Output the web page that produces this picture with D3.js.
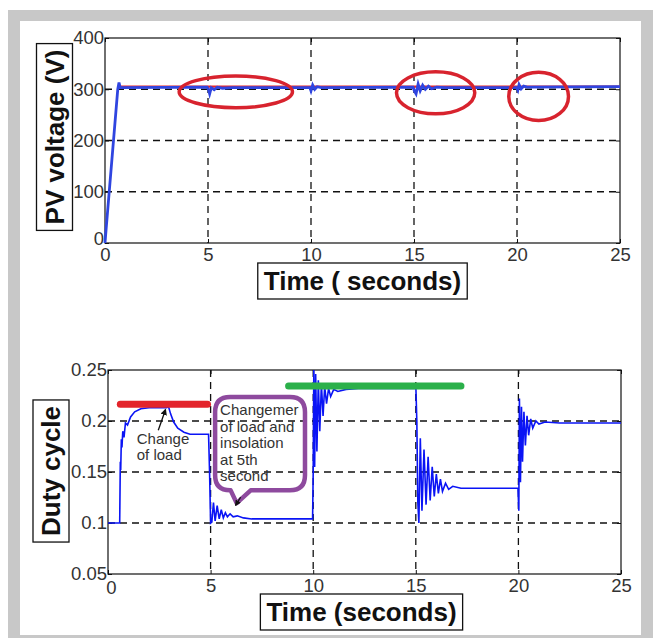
<!DOCTYPE html>
<html>
<head>
<meta charset="utf-8">
<script src="https://cdn.jsdelivr.net/npm/d3@7"></script>
<style>
    body { margin: 0; background: #fff; }
    svg text { font-family: "Liberation Sans", Arial, sans-serif; }
</style>
</head>
<body>
<div id="chart"></div>
<script>
// PV voltage (top plot)
const pvVoltage = [
    [0, 0], [0.05, 25], [0.62, 300], [0.68, 313], [0.74, 303], [4.95, 304],
    [5.02, 300], [5.08, 291], [5.16, 303], [5.3, 299], [5.45, 304], [5.7, 302], [6.2, 303],
    [9.95, 303], [10.0, 297], [10.08, 308], [10.18, 300], [10.3, 305], [10.5, 303],
    [14.95, 304], [15.03, 296], [15.1, 291], [15.2, 310], [15.3, 297], [15.42, 308], [15.55, 300],
    [15.7, 306], [15.85, 301], [16.1, 304], [16.5, 303],
    [19.98, 303], [20.04, 298], [20.1, 309], [20.2, 301], [20.32, 306], [20.5, 304], [25, 305]
];
const pvReference = [[0.7, 305], [25, 305]];
// circled regions: centre time, centre volts, half-width (s), half-height (V)
const pvCircles = [
    [6.35, 295, 2.75, 31],
    [16.05, 293, 1.9, 41],
    [21.05, 286, 1.45, 47]
];

// Duty cycle (bottom plot)
const duty = [
    [0, 0.1], [0.57, 0.1], [0.6, 0.16], [0.62, 0.152], [0.65, 0.182], [0.68, 0.174], [0.72, 0.19],
    [0.78, 0.184], [0.85, 0.198], [0.95, 0.196], [1.1, 0.204], [1.3, 0.209], [1.6, 0.212],
    [2.0, 0.213], [2.85, 0.213], [2.95, 0.214], [3.05, 0.207], [3.2, 0.199], [3.4, 0.193],
    [3.7, 0.189], [4.0, 0.187], [4.9, 0.187], [4.95, 0.15], [5.0, 0.1], [5.06, 0.101],
    [5.14, 0.12], [5.22, 0.102], [5.32, 0.117], [5.42, 0.104], [5.52, 0.113], [5.62, 0.105],
    [5.72, 0.11], [5.82, 0.106], [5.95, 0.109], [6.1, 0.106], [6.3, 0.107], [6.6, 0.105],
    [7.0, 0.104], [9.97, 0.104], [10.0, 0.15], [10.03, 0.25], [10.07, 0.155], [10.12, 0.246],
    [10.18, 0.17], [10.25, 0.24], [10.32, 0.19], [10.4, 0.236], [10.48, 0.205], [10.56, 0.234],
    [10.65, 0.217], [10.75, 0.232], [10.85, 0.224], [11.0, 0.231], [11.2, 0.229], [11.6, 0.231],
    [12.2, 0.232], [14.97, 0.232], [15.0, 0.236], [15.05, 0.2], [15.1, 0.12], [15.15, 0.1],
    [15.22, 0.183], [15.3, 0.112], [15.4, 0.172], [15.5, 0.118], [15.6, 0.165], [15.7, 0.122],
    [15.8, 0.155], [15.9, 0.126], [16.0, 0.148], [16.1, 0.129], [16.2, 0.143], [16.3, 0.131],
    [16.45, 0.139], [16.6, 0.133], [16.8, 0.136], [17.2, 0.134], [19.98, 0.134], [20.02, 0.112],
    [20.05, 0.222], [20.1, 0.14], [20.15, 0.214], [20.2, 0.16], [20.27, 0.209], [20.34, 0.176],
    [20.42, 0.205], [20.5, 0.186], [20.6, 0.202], [20.7, 0.193], [20.85, 0.2], [21.0, 0.197],
    [21.3, 0.199], [22, 0.198], [25, 0.198]
];
// highlight bars: start time, end time, level
const dutyBars = [
    [0.6, 4.85, 0.2165, "#e3242b"],
    [8.8, 17.2, 0.2343, "#2bb04a"]
];
const loadNote = ["Change", "of load"];
const calloutNote = ["Changemer", "of load and", "insolation", "at 5th", "second"];

const timeTicks = [0, 5, 10, 15, 20, 25];
const pvTicks = [0, 100, 200, 300, 400];
const dutyTicks = [0.05, 0.1, 0.15, 0.2, 0.25];

const width = 653, height = 638;
const font = '"Liberation Sans", Arial, sans-serif';

const svg = d3.select("#chart").append("svg")
    .attr("width", width)
    .attr("height", height);

// grey picture frame
svg.append("rect").attr("x", 8).attr("y", 10).attr("width", 645).attr("height", 628).attr("fill", "#c8c8c8");
svg.append("rect").attr("x", 20).attr("y", 21).attr("width", 621).attr("height", 614).attr("fill", "#fff");

const drawPanel = (box, yDomain, yTicks, yFmt) => {
    const x = d3.scaleLinear().domain([0, 25]).range([box.left, box.right]);
    const y = d3.scaleLinear().domain(yDomain).range([box.bottom, box.top]);
    const g = svg.append("g");

    // dashed grid
    g.selectAll(".vgrid").data(timeTicks.slice(1, -1)).join("line")
        .attr("x1", d => x(d)).attr("x2", d => x(d))
        .attr("y1", box.top).attr("y2", box.bottom)
        .attr("stroke", "#111").attr("stroke-width", 1.3).attr("stroke-dasharray", "7,5");
    g.selectAll(".hgrid").data(yTicks.slice(1, -1)).join("line")
        .attr("x1", box.left).attr("x2", box.right)
        .attr("y1", d => y(d)).attr("y2", d => y(d))
        .attr("stroke", "#111").attr("stroke-width", 1.3).attr("stroke-dasharray", "7,5");

    // axes, matlab style ticks inside
    const tickStyle = a => {
        a.attr("font-family", font);
        a.select(".domain").remove();
        a.selectAll("line").attr("stroke", "#111");
        a.selectAll("text").attr("fill", "#333").style("font-size", "18.5px");
    };
    g.append("g").attr("class", "xaxis").attr("transform", `translate(0,${box.bottom})`)
        .call(d3.axisTop(x).tickValues(timeTicks).tickSize(4).tickFormat(d3.format("d")))
        .call(tickStyle)
        .call(a => a.selectAll("text").attr("y", 5).attr("dy", "0.71em"));
    g.append("g").attr("transform", `translate(0,${box.top})`)
        .call(d3.axisBottom(x).tickValues(timeTicks).tickSize(4).tickFormat(""))
        .call(tickStyle);
    g.append("g").attr("class", "yaxis").attr("transform", `translate(${box.left},0)`)
        .call(d3.axisRight(y).tickValues(yTicks).tickSize(4).tickFormat(yFmt))
        .call(tickStyle)
        .call(a => a.selectAll("text").attr("x", -1).attr("text-anchor", "end"));
    g.append("g").attr("transform", `translate(${box.right},0)`)
        .call(d3.axisLeft(y).tickValues(yTicks).tickSize(4).tickFormat(""))
        .call(tickStyle);

    g.append("rect")
        .attr("x", box.left).attr("y", box.top)
        .attr("width", box.right - box.left).attr("height", box.bottom - box.top)
        .attr("fill", "none").attr("stroke", "#111").attr("stroke-width", 1.2);

    return {x, y, g};
};

// boxed bold axis titles
const boxedLabel = (cx, cy, label, rotate, size) => {
    const g = svg.append("g").attr("transform", `translate(${cx},${cy})${rotate ? "rotate(-90)" : ""}`);
    const t = g.append("text")
        .attr("text-anchor", "middle").attr("dy", "0.36em")
        .attr("font-family", font)
        .style("font-size", size + "px").style("font-weight", "bold").attr("fill", "#111")
        .text(label);
    const bb = t.node().getBBox();
    g.insert("rect", "text")
        .attr("x", bb.x - 6).attr("y", -18)
        .attr("width", bb.width + 12).attr("height", 36)
        .attr("fill", "#fff").attr("stroke", "#111").attr("stroke-width", 1.3);
};

// ---- top: PV voltage ----
const pvPanel = drawPanel({left: 105, right: 620, top: 38, bottom: 243}, [0, 400], pvTicks, d3.format("d"));
// keep the two zeros at the corner apart
pvPanel.g.selectAll(".yaxis .tick text").filter(d => d === 0).attr("dy", "0.1em");

pvPanel.g.append("path").datum(pvReference)
    .attr("d", d3.line().x(d => pvPanel.x(d[0])).y(d => pvPanel.y(d[1])))
    .attr("fill", "none").attr("stroke", "#e3242b").attr("stroke-width", 2.2);
pvPanel.g.append("path").datum(pvVoltage)
    .attr("d", d3.line().x(d => pvPanel.x(d[0])).y(d => pvPanel.y(d[1])))
    .attr("fill", "none").attr("stroke", "#2f45e0").attr("stroke-width", 2.8);
pvPanel.g.selectAll(".circ").data(pvCircles).join("ellipse")
    .attr("cx", d => pvPanel.x(d[0])).attr("cy", d => pvPanel.y(d[1]))
    .attr("rx", d => pvPanel.x(d[2]) - pvPanel.x(0)).attr("ry", d => pvPanel.y(0) - pvPanel.y(d[3]))
    .attr("fill", "none").attr("stroke", "#d8232e").attr("stroke-width", 3.5);

boxedLabel(54.5, 137, "PV voltage (V)", true, 26);
boxedLabel(362.5, 281, "Time ( seconds)", false, 26);

// ---- bottom: duty cycle ----
const dutyPanel = drawPanel({left: 108, right: 621, top: 370, bottom: 574}, [0.05, 0.25], dutyTicks, d => d3.format("")(d));
// matlab pushes the 0 down past the 0.05 label
dutyPanel.g.selectAll(".xaxis .tick text").filter(d => d === 0).attr("x", 3).attr("y", 7);

dutyPanel.g.append("path").datum(duty)
    .attr("d", d3.line().x(d => dutyPanel.x(d[0])).y(d => dutyPanel.y(d[1])))
    .attr("fill", "none").attr("stroke", "#0a14f5").attr("stroke-width", 1.6);

dutyPanel.g.selectAll(".bar").data(dutyBars).join("line")
    .attr("x1", d => dutyPanel.x(d[0])).attr("x2", d => dutyPanel.x(d[1]))
    .attr("y1", d => dutyPanel.y(d[2])).attr("y2", d => dutyPanel.y(d[2]))
    .attr("stroke", d => d[3]).attr("stroke-width", 7).attr("stroke-linecap", "round");

// "Change of load" note and arrow
svg.append("defs").append("marker")
    .attr("id", "head").attr("viewBox", "0 0 10 10").attr("refX", 8).attr("refY", 5)
    .attr("markerWidth", 5).attr("markerHeight", 5).attr("orient", "auto")
    .append("path").attr("d", "M0,0L10,5L0,10z").attr("fill", "#111");

dutyPanel.g.append("line")
    .attr("x1", dutyPanel.x(2.45)).attr("y1", dutyPanel.y(0.191))
    .attr("x2", dutyPanel.x(2.8)).attr("y2", dutyPanel.y(0.211))
    .attr("stroke", "#111").attr("stroke-width", 1.3).attr("marker-end", "url(#head)");
dutyPanel.g.append("text")
    .attr("x", dutyPanel.x(1.4)).attr("y", dutyPanel.y(0.177))
    .attr("font-family", font)
    .style("font-size", "15px").attr("fill", "#333")
    .selectAll("tspan").data(loadNote).join("tspan")
    .attr("x", dutyPanel.x(1.4)).attr("dy", (d, i) => i ? 16 : 0)
    .text(d => d);

// purple callout
const cl = dutyPanel.x(5.22), cr = dutyPanel.x(9.6), ct = dutyPanel.y(0.2235), cb = dutyPanel.y(0.132);
const tip = [dutyPanel.x(6.27), dutyPanel.y(0.1195)];
const rr = 15;
const bubble = d3.path();
bubble.moveTo(cl + rr, ct);
bubble.lineTo(cr - rr, ct);
bubble.quadraticCurveTo(cr, ct, cr, ct + rr);
bubble.lineTo(cr, cb - rr);
bubble.quadraticCurveTo(cr, cb, cr - rr, cb);
bubble.lineTo(tip[0] + 14, cb);
bubble.lineTo(tip[0], tip[1]);
bubble.lineTo(tip[0] - 6, cb);
bubble.lineTo(cl + rr, cb);
bubble.quadraticCurveTo(cl, cb, cl, cb - rr);
bubble.lineTo(cl, ct + rr);
bubble.quadraticCurveTo(cl, ct, cl + rr, ct);
bubble.closePath();

svg.append("clipPath").attr("id", "bubbleClip")
    .append("rect").attr("x", cl).attr("y", ct).attr("width", cr - cl - 3).attr("height", cb - ct);
dutyPanel.g.append("text")
    .attr("clip-path", "url(#bubbleClip)")
    .attr("y", ct + 18)
    .attr("font-family", font)
    .style("font-size", "15px").attr("fill", "#333")
    .selectAll("tspan").data(calloutNote).join("tspan")
    .attr("x", cl + 5).attr("dy", (d, i) => i ? 16.5 : 0)
    .text(d => d);
dutyPanel.g.append("path").attr("d", bubble.toString())
    .attr("fill", "none").attr("stroke", "#8e4a9e").attr("stroke-width", 4.5).attr("stroke-linejoin", "round");
dutyPanel.g.append("line")
    .attr("x1", tip[0] + 4).attr("y1", tip[1] - 6)
    .attr("x2", tip[0] - 1).attr("y2", tip[1] + 2)
    .attr("stroke", "#111").attr("stroke-width", 1.2).attr("marker-end", "url(#head)");

boxedLabel(51, 471, "Duty cycle", true, 26);
boxedLabel(361.5, 612, "Time (seconds)", false, 26);
</script>
</body>
</html>
